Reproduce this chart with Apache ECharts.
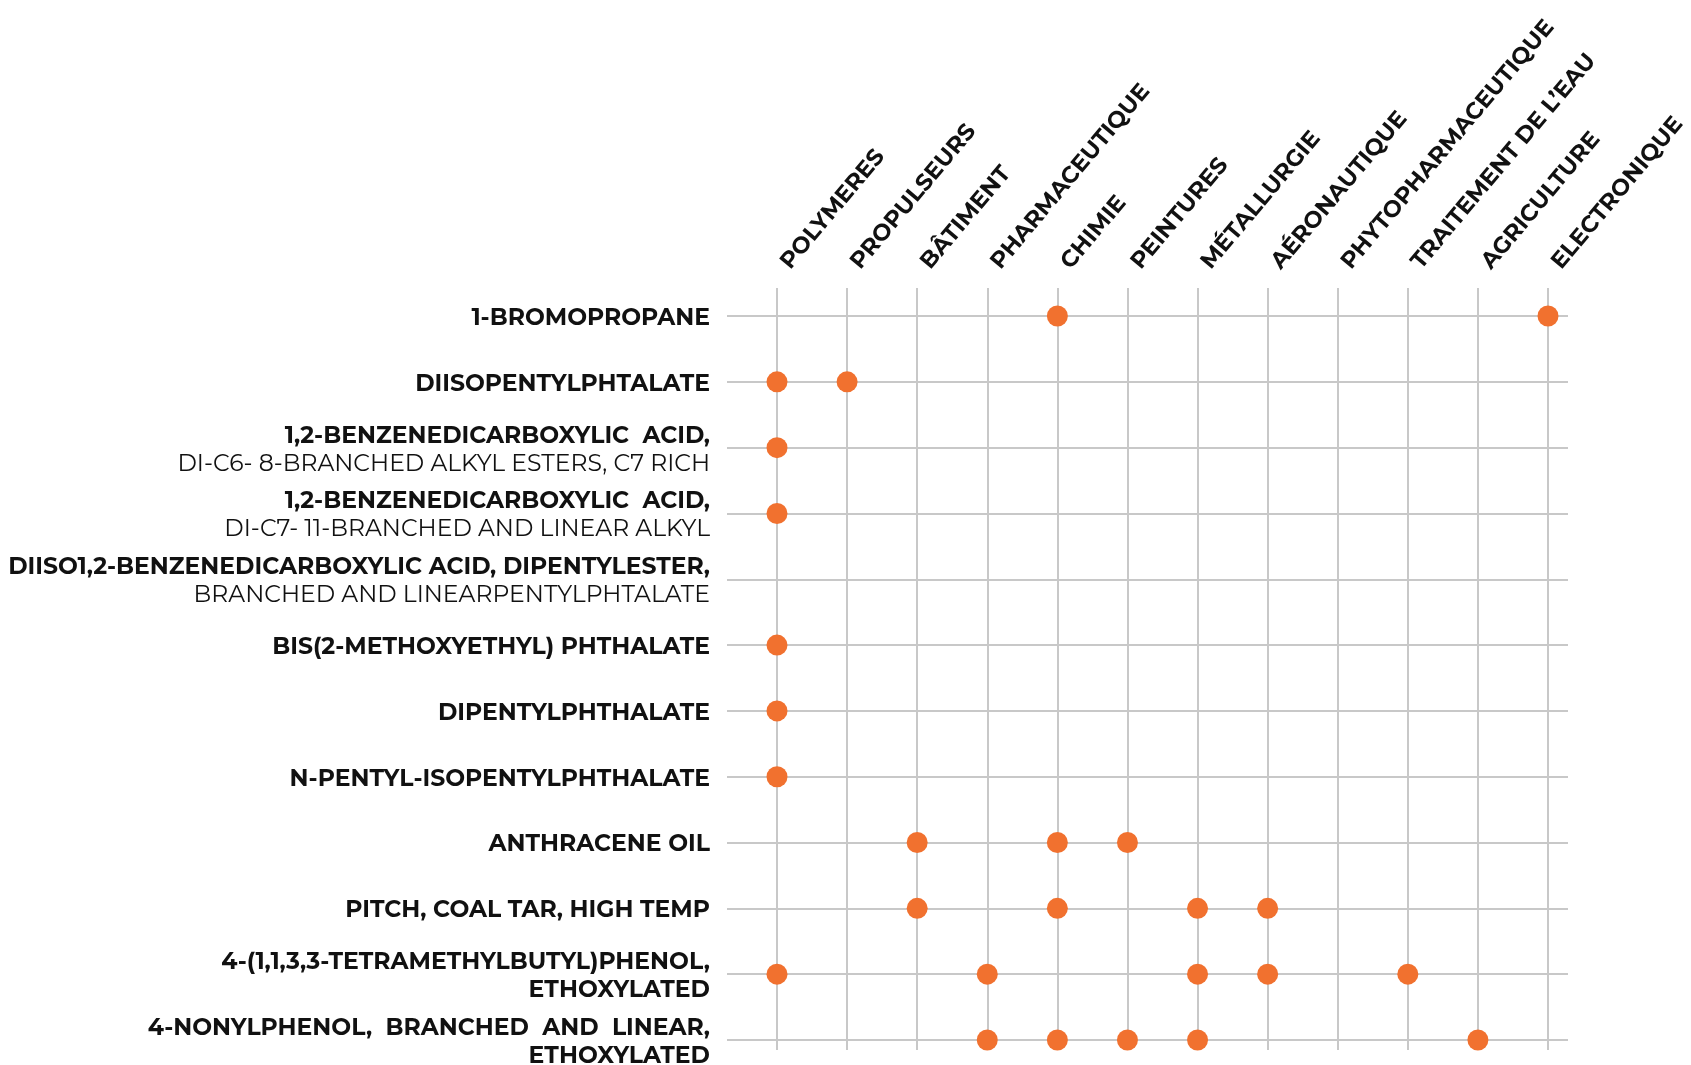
<!DOCTYPE html>
<html>
<head>
<meta charset="utf-8">
<script src="https://cdn.jsdelivr.net/npm/echarts@6/dist/echarts.min.js"></script>
<style>
html,body{margin:0;padding:0;background:#fff;}
#chart{width:1691px;height:1065px;}
</style>
</head>
<body>
<div id="chart"></div>
<script>
// Sectors (columns)
const sectors = ['POLYMERES','PROPULSEURS','BÂTIMENT','PHARMACEUTIQUE','CHIMIE','PEINTURES','MÉTALLURGIE','AÉRONAUTIQUE','PHYTOPHARMACEUTIQUE','TRAITEMENT DE L’EAU','AGRICULTURE','ELECTRONIQUE'];
// Substances (rows); "\n" separates the first (bold) line from the second line
const substances = [
  '1-BROMOPROPANE',
  'DIISOPENTYLPHTALATE',
  '1,2-BENZENEDICARBOXYLIC  ACID,\nDI-C6- 8-BRANCHED ALKYL ESTERS, C7 RICH',
  '1,2-BENZENEDICARBOXYLIC  ACID,\nDI-C7- 11-BRANCHED AND LINEAR ALKYL',
  'DIISO1,2-BENZENEDICARBOXYLIC ACID, DIPENTYLESTER,\nBRANCHED AND LINEARPENTYLPHTALATE',
  'BIS(2-METHOXYETHYL) PHTHALATE',
  'DIPENTYLPHTHALATE',
  'N-PENTYL-ISOPENTYLPHTHALATE',
  'ANTHRACENE OIL',
  'PITCH, COAL TAR, HIGH TEMP',
  '4-(1,1,3,3-TETRAMETHYLBUTYL)PHENOL,\nETHOXYLATED',
  '4-NONYLPHENOL,  BRANCHED  AND  LINEAR,\nETHOXYLATED'
];
// rows whose second line is also bold
const boldSecondLine = [10, 11];
// sector indices used by each substance (same order as substances)
const uses = [
  [4, 11],
  [0, 1],
  [0],
  [0],
  [],
  [0],
  [0],
  [0],
  [2, 4, 5],
  [2, 4, 6, 7],
  [0, 3, 6, 7, 9],
  [3, 4, 5, 6, 10]
];

const points = [];
uses.forEach((cols, r) => cols.forEach(c => points.push([sectors[c], substances[r]])));

const FONT = 'Montserrat, "DejaVu Sans", sans-serif';
const gridColor = '#c8c8c8';
const noBounds = {containLabel: false, outerBoundsMode: 'none'};

const chart = echarts.init(document.getElementById('chart'), null, {renderer: 'canvas'});
chart.setOption({
  animation: false,
  backgroundColor: '#ffffff',
  grid: [
    Object.assign({left: 777, right: 143, top: 316, bottom: 25}, noBounds),   // dots + row labels
    Object.assign({left: 777, right: 143, top: 288, bottom: 15}, noBounds),   // vertical grid lines
    Object.assign({left: 727, right: 123, top: 316, bottom: 25}, noBounds),   // horizontal grid lines
    Object.assign({left: 785, right: 135, top: 316, bottom: 25}, noBounds)    // column labels
  ],
  xAxis: [
    {
      gridIndex: 0, type: 'category', data: sectors, boundaryGap: false, position: 'top',
      axisLine: {show: false}, axisTick: {show: false}, splitLine: {show: false}, axisLabel: {show: false}
    },
    {
      gridIndex: 1, type: 'category', data: sectors, boundaryGap: false,
      axisLine: {show: false}, axisTick: {show: false}, axisLabel: {show: false, interval: 0},
      splitLine: {show: true, interval: 0, lineStyle: {color: gridColor, width: 2}}
    },
    {
      gridIndex: 2, type: 'value', show: false, splitLine: {show: false}
    },
    {
      gridIndex: 3, type: 'category', data: sectors, boundaryGap: false, position: 'top',
      axisLine: {show: false}, axisTick: {show: false}, splitLine: {show: false},
      axisLabel: {interval: 0, rotate: 50, margin: 50, color: '#111', fontFamily: FONT, fontWeight: 'bold', fontSize: 23}
    }
  ],
  yAxis: [
    {
      gridIndex: 0, type: 'category', data: substances, boundaryGap: false, inverse: true,
      axisLine: {show: false}, axisTick: {show: false}, splitLine: {show: false},
      axisLabel: {
        interval: 0, margin: 67, align: 'right', padding: [4, 0, 0, 0],
        formatter: function (v) {
          const i = substances.indexOf(v);
          const parts = v.split('\n');
          if (parts.length === 1) return '{b|' + parts[0] + '}';
          const second = boldSecondLine.indexOf(i) >= 0 ? 'b' : 'n';
          return '{b|' + parts[0] + '}\n{' + second + '|' + parts[1] + '}';
        },
        rich: {
          b: {fontFamily: FONT, fontWeight: 'bold', fontSize: 23.5, color: '#111', lineHeight: 28, align: 'right'},
          n: {fontFamily: FONT, fontWeight: 'normal', fontSize: 23.5, color: '#111', lineHeight: 28, align: 'right'}
        }
      }
    },
    {
      gridIndex: 1, type: 'value', show: false, splitLine: {show: false}
    },
    {
      gridIndex: 2, type: 'category', data: substances, boundaryGap: false, inverse: true,
      axisLine: {show: false}, axisTick: {show: false}, axisLabel: {show: false, interval: 0},
      splitLine: {show: true, interval: 0, lineStyle: {color: gridColor, width: 2}}
    },
    {
      gridIndex: 3, type: 'value', show: false, splitLine: {show: false}
    }
  ],
  series: [
    {
      type: 'scatter', xAxisIndex: 0, yAxisIndex: 0, data: points,
      symbol: 'circle', symbolSize: 21, z: 10,
      itemStyle: {color: '#F1712F', opacity: 1}
    }
  ]
});
</script>
</body>
</html>
